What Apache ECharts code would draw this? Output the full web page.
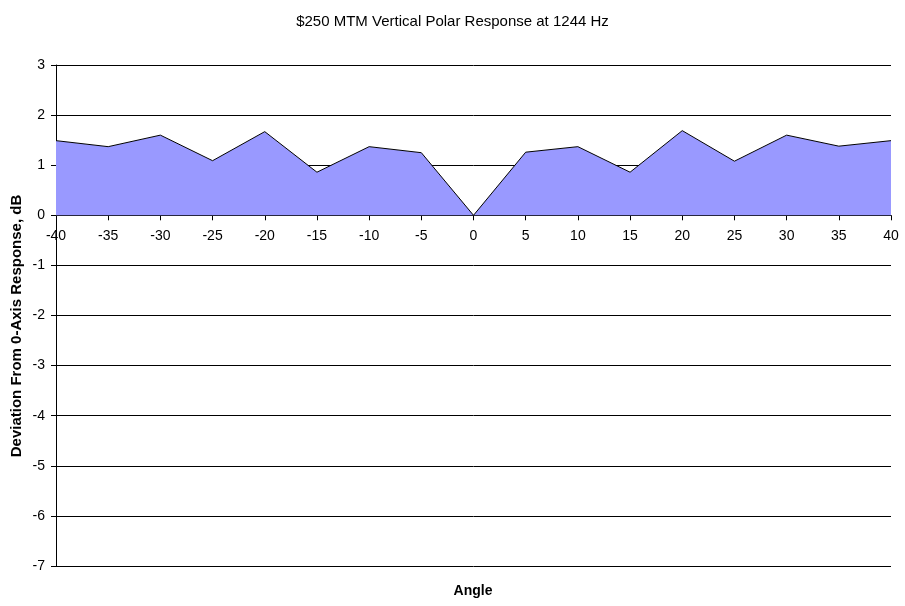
<!DOCTYPE html>
<html><head><meta charset="utf-8">
<script src="https://cdn.jsdelivr.net/npm/echarts@6/dist/echarts.min.js"></script>
<style>html,body{margin:0;padding:0;background:#fff}#c{width:905px;height:606px}</style>
</head><body><div id="c"></div>
<script>
const angles = ['-40','-35','-30','-25','-20','-15','-10','-5','0','5','10','15','20','25','30','35','40'];
const deviation = [1.49,1.37,1.60,1.09,1.67,0.86,1.37,1.25,0,1.26,1.37,0.86,1.69,1.08,1.60,1.38,1.49];
const titleText = '$250 MTM Vertical Polar Response at 1244 Hz';
const xName = 'Angle';
const yName = 'Deviation From 0-Axis Response, dB';
const yMin = -7, yMax = 3;

const gridTop = 65, gridBottom = 40, H = 606;
const plotH = H - gridTop - gridBottom;
const zeroOffset = -(plotH * (0 - yMin) / (yMax - yMin));

const chart = echarts.init(document.getElementById('c'));
const font = 'Liberation Sans, Arial, sans-serif';
chart.setOption({
  animation: false,
  backgroundColor: '#fff',
  title: {text: titleText, left: 'center', top: 9,
    textStyle: {fontFamily: font, fontSize: 15, fontWeight: 'normal', color: '#000'}},
  grid: {left: 56, right: 14, top: gridTop, bottom: gridBottom, containLabel: false},
  xAxis: {type: 'category', data: angles, boundaryGap: false, position: 'bottom', offset: zeroOffset,
    axisLine: {onZero: false, lineStyle: {color: '#000', width: 1}},
    axisTick: {show: true, length: 5, lineStyle: {color: '#000'}},
    axisLabel: {color: '#000', fontFamily: font, fontSize: 14, margin: 14, interval: 0},
    splitLine: {show: false}},
  yAxis: {type: 'value', min: yMin, max: yMax, interval: 1,
    axisLine: {show: true, lineStyle: {color: '#000', width: 1}},
    axisTick: {show: true, length: 5, lineStyle: {color: '#000'}},
    axisLabel: {color: '#000', fontFamily: font, fontSize: 14, margin: 11},
    splitLine: {show: true, lineStyle: {color: '#000', width: 1}}},
  graphic: [
    {type: 'text', x: 473, y: 591, style: {text: xName, font: 'bold 14px ' + font, fill: '#000', textAlign: 'center', textVerticalAlign: 'middle'}},
    {type: 'text', x: 17, y: 326, rotation: Math.PI / 2, style: {text: yName, font: 'bold 15px ' + font, fill: '#000', textAlign: 'center', textVerticalAlign: 'middle'}}
  ],
  series: [{type: 'line', data: deviation, symbol: 'none',
    lineStyle: {color: '#000', width: 1},
    areaStyle: {color: '#9999FF', opacity: 1}}]
});
</script></body></html>
